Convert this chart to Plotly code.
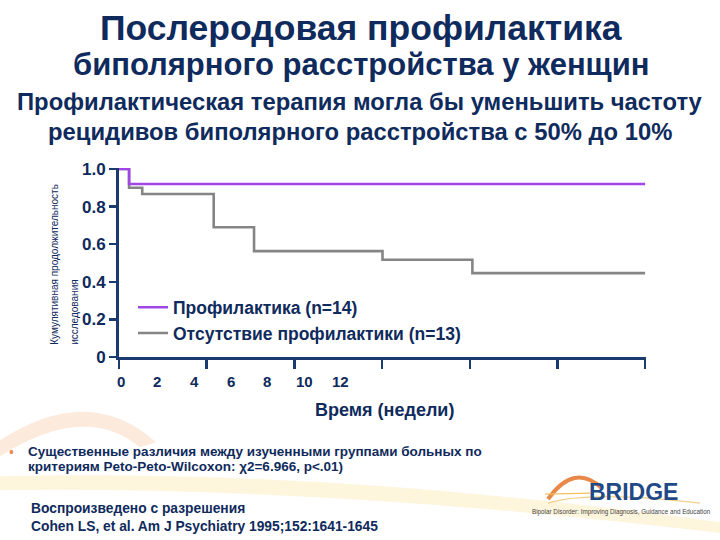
import plotly.graph_objects as go

# ---------------- data ----------------
weeks_prophylaxis = [0, 0.23, 12]
surv_prophylaxis = [1.0, 0.92, 0.92]
weeks_none = [0, 0.23, 0.53, 2.16, 3.08, 6.01, 8.06, 12]
surv_none = [1.0, 0.90, 0.867, 0.69, 0.563, 0.517, 0.446, 0.446]
x_axis_ticks = [0, 2, 4, 6, 8, 10, 12]
x_label_text = ["0", "2", "4", "6", "8", "10", "12"]
y_tick_vals = [0, 0.2, 0.4, 0.6, 0.8, 1.0]
y_tick_text = ["0", "0.2", "0.4", "0.6", "0.8", "1.0"]
legend_names = ["Профилактика (n=14)", "Отсутствие профилактики (n=13)"]

NAVY = "#0f2a5c"
AXIS = "#1b3a6e"
PURPLE = "#a245e6"
GRAY = "#858585"
FONT = "Liberation Sans, Arial, sans-serif"
CLEAR = "rgba(0,0,0,0)"

W, H = 720, 540
L, R, T, B = 119, 646, 167.5, 356.7
Y_TOP = 1.005
X_END = 12.02


def px(x):
    return (x - L) / (R - L)


def py(y):
    return (B - y) / (B - T)


fig = go.Figure()
fig.add_trace(go.Scatter(x=weeks_none, y=surv_none, mode="lines", line_shape="hv",
                         line=dict(color=GRAY, width=2.6), name=legend_names[1],
                         legendrank=2, hoverinfo="skip"))
fig.add_trace(go.Scatter(x=weeks_prophylaxis, y=surv_prophylaxis, mode="lines", line_shape="hv",
                         line=dict(color=PURPLE, width=2.6), name=legend_names[0],
                         legendrank=1, hoverinfo="skip"))

ann = []


def txt(x, y, s, size, bold=True, color=NAVY, xanchor="center", yanchor="middle", **kw):
    ann.append(dict(x=px(x), y=py(y), xref="paper", yref="paper", text=("<b>%s</b>" % s) if bold else s,
                    showarrow=False, xanchor=xanchor, yanchor=yanchor,
                    font=dict(family=FONT, size=size, color=color), **kw))


txt(361, 27, "Послеродовая профилактика", 35.5)
txt(361, 64, "биполярного расстройства у женщин", 31)
txt(360, 101, "Профилактическая терапия могла бы уменьшить частоту", 23.8)
txt(360, 131, "рецидивов биполярного расстройства с 50% до 10%", 23.8)
txt(384, 410, "Время (недели)", 18)
txt(55, 347, "Кумулятивная продолжительность", 10, bold=False, textangle=-90,
    yanchor="bottom")
txt(75, 347, "исследования", 10, bold=False, textangle=-90, yanchor="bottom")
txt(11, 452, "•", 14, bold=False, color="#ef8a55")
txt(26, 451.5, "Существенные различия между изученными группами больных по", 13.5, xanchor="left")
txt(26, 466, "критериям Peto-Peto-Wilcoxon: χ2=6.966, p<.01)", 13.5, xanchor="left")
txt(29, 508, "Воспроизведено с разрешения", 13.8, xanchor="left")
txt(29, 526, "Cohen LS, et al. Am J Psychiatry 1995;152:1641-1645", 13.8, xanchor="left")
txt(633, 492, "BRIDGE", 23, color="#1f4a86")
txt(621, 512, "Bipolar Disorder: Improving Diagnosis, Guidance and Education", 6.3, bold=False,
    color="#444444")

# x tick labels: a separate, compressed 0-12 scale printed under the left part of the axis
label_step_px = 36.67
for k, s in enumerate(x_label_text):
    label_px = 120.7 + k * label_step_px
    ann.append(dict(x=(label_px - L) * X_END / (R - L), y=py(381), xref="x", yref="paper",
                    text="<b>%s</b>" % s, showarrow=False, xanchor="center", yanchor="middle",
                    font=dict(family=FONT, size=15, color=NAVY)))

shapes = []


def path(points_cmd, color, width=0, fill=None, layer="above"):
    parts = []
    for item in points_cmd:
        if isinstance(item, str):
            parts.append(item)
        else:
            parts.append("%.5f,%.5f" % (px(item[0]), py(item[1])))
    d = dict(type="path", xref="paper", yref="paper", path=" ".join(parts), layer=layer)
    if fill:
        d["fillcolor"] = fill
        d["line"] = dict(width=0, color=CLEAR)
    else:
        d["line"] = dict(color=color, width=width)
    shapes.append(d)


# faint background swooshes
path(["M", (0, 440), "Q", (90, 382), (156, 442), "L", (140, 447), "Q", (85, 402), (0, 456), "Z"],
     None, fill="rgba(247,204,168,0.4)")
path(["M", (0, 476), "Q", (330, 468), (720, 522), "L", (720, 533), "Q", (330, 486), (0, 490), "Z"],
     None, fill="rgba(252,232,180,0.45)")
# BRIDGE logo swoosh
path(["M", (548, 499), "Q", (574, 462), (602, 488)], "#e8894a", 4)
path(["M", (545, 494), "L", (590, 493)], "#f2c060", 1.2)
path(["M", (548, 503), "Q", (590, 490), (700, 503)], "#f2d08a", 1.2)

axis_common = dict(ticks="outside", tickwidth=2.5, tickcolor=AXIS, showline=True, linecolor=AXIS,
                   linewidth=3, showgrid=False, zeroline=False, mirror=False, fixedrange=True)

fig.update_layout(
    template="none",
    width=W, height=H,
    margin=dict(l=L, r=W - R, t=T, b=H - B),
    paper_bgcolor="white", plot_bgcolor="white",
    hovermode=False, dragmode=False,
    showlegend=True,
    legend=dict(x=px(133), y=py(289), xanchor="left", yanchor="top", bgcolor=CLEAR, borderwidth=0,
                font=dict(family=FONT, size=17.5, color=NAVY, weight="bold"), itemwidth=30,
                tracegroupgap=0, traceorder="normal"),
    xaxis=dict(range=[0, X_END], tickvals=x_axis_ticks, showticklabels=False, ticklen=9, **axis_common),
    yaxis=dict(range=[0, Y_TOP], tickvals=y_tick_vals, ticktext=y_tick_text, ticklen=7,
               tickfont=dict(family=FONT, size=17, color=NAVY, weight="bold"), **axis_common),
    annotations=ann,
    shapes=shapes,
)
fig.write_html("out.html", config={"staticPlot": True, "displayModeBar": False})
